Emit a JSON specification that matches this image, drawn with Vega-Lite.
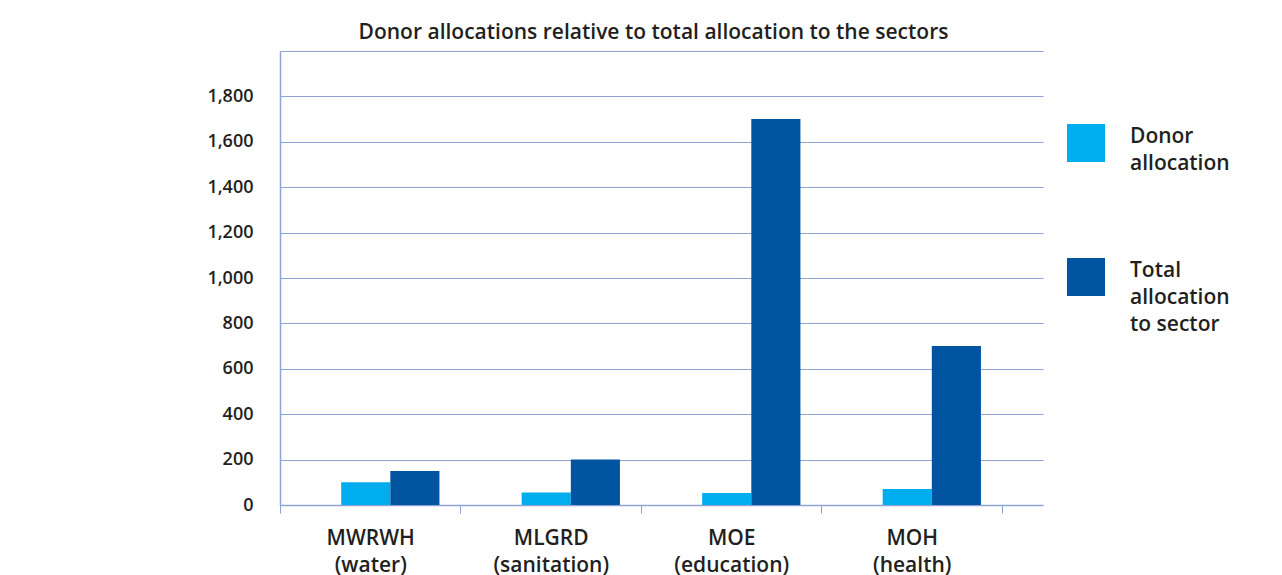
{
  "$schema": "https://vega.github.io/schema/vega-lite/v6.json",
  "width": 763,
  "height": 454,
  "autosize": {"type": "none"},
  "padding": {"left": 280, "top": 51, "right": 239, "bottom": 70},
  "background": "white",
  "title": {
    "text": "Donor allocations relative to total allocation to the sectors",
    "font": "Open Sans",
    "fontSize": 21,
    "fontWeight": 600,
    "color": "#231f20",
    "anchor": "middle",
    "dx": -8,
    "offset": 8
  },
  "data": {
    "values": [
      {"sector": "MWRWH (water)", "series": "Donor allocation", "value": 100},
      {"sector": "MWRWH (water)", "series": "Total allocation to sector", "value": 150},
      {"sector": "MLGRD (sanitation)", "series": "Donor allocation", "value": 55},
      {"sector": "MLGRD (sanitation)", "series": "Total allocation to sector", "value": 200},
      {"sector": "MOE (education)", "series": "Donor allocation", "value": 53},
      {"sector": "MOE (education)", "series": "Total allocation to sector", "value": 1700},
      {"sector": "MOH (health)", "series": "Donor allocation", "value": 70},
      {"sector": "MOH (health)", "series": "Total allocation to sector", "value": 700}
    ]
  },
  "mark": {"type": "bar"},
  "encoding": {
    "x": {
      "field": "sector",
      "type": "nominal",
      "sort": ["MWRWH (water)", "MLGRD (sanitation)", "MOE (education)", "MOH (health)"],
      "scale": {"paddingInner": 0, "paddingOuter": 0.1136, "align": 0},
      "axis": {
        "title": null,
        "labelAngle": 0,
        "labelExpr": "split(datum.label, ' ')",
        "labelFont": "Open Sans",
        "labelFontSize": 21,
        "labelFontWeight": 600,
        "labelColor": "#231f20",
        "labelLineHeight": 27,
        "labelPadding": 14,
        "tickBand": "extent",
        "ticks": true,
        "tickSize": 8,
        "tickColor": "#8fa4d4",
        "domainColor": "#8fa4d4",
        "domainWidth": 1.5,
        "grid": false
      }
    },
    "xOffset": {
      "field": "series",
      "type": "nominal",
      "sort": ["Donor allocation", "Total allocation to sector"],
      "scale": {"paddingInner": 0, "paddingOuter": 0.837, "align": 0.744}
    },
    "y": {
      "field": "value",
      "type": "quantitative",
      "scale": {"domain": [0, 2000], "nice": false},
      "axis": {
        "title": null,
        "values": [0, 200, 400, 600, 800, 1000, 1200, 1400, 1600, 1800, 2000],
        "labelExpr": "datum.value == 2000 ? '' : format(datum.value, ',')",
        "labelFont": "Open Sans",
        "labelFontSize": 18,
        "labelFontWeight": 600,
        "labelColor": "#231f20",
        "labelPadding": 27,
        "ticks": false,
        "grid": true,
        "gridColor": "#8fa4d4",
        "gridWidth": 1.2,
        "domainColor": "#8fa4d4",
        "domainWidth": 1.5
      }
    },
    "color": {
      "field": "series",
      "type": "nominal",
      "sort": ["Donor allocation", "Total allocation to sector"],
      "scale": {"range": ["#00aeef", "#0054a0"]},
      "legend": {
        "title": null,
        "orient": "none",
        "legendX": 787,
        "legendY": 73,
        "padding": 0,
        "symbolType": "square",
        "symbolSize": 1444,
        "symbolStrokeWidth": 0,
        "symbolOpacity": 1,
        "labelExpr": "datum.value == 'Donor allocation' ? ['Donor', 'allocation'] : ['Total', 'allocation', 'to sector']",
        "labelFont": "Open Sans",
        "labelFontSize": 21,
        "labelFontWeight": 600,
        "labelColor": "#231f20",
        "labelOffset": 25,
        "labelBaseline": "alphabetic",
        "rowPadding": 84,
        "labelLimit": 300
      }
    }
  },
  "config": {
    "view": {"stroke": null},
    "style": {"guide-label": {"lineHeight": 27}}
  }
}
